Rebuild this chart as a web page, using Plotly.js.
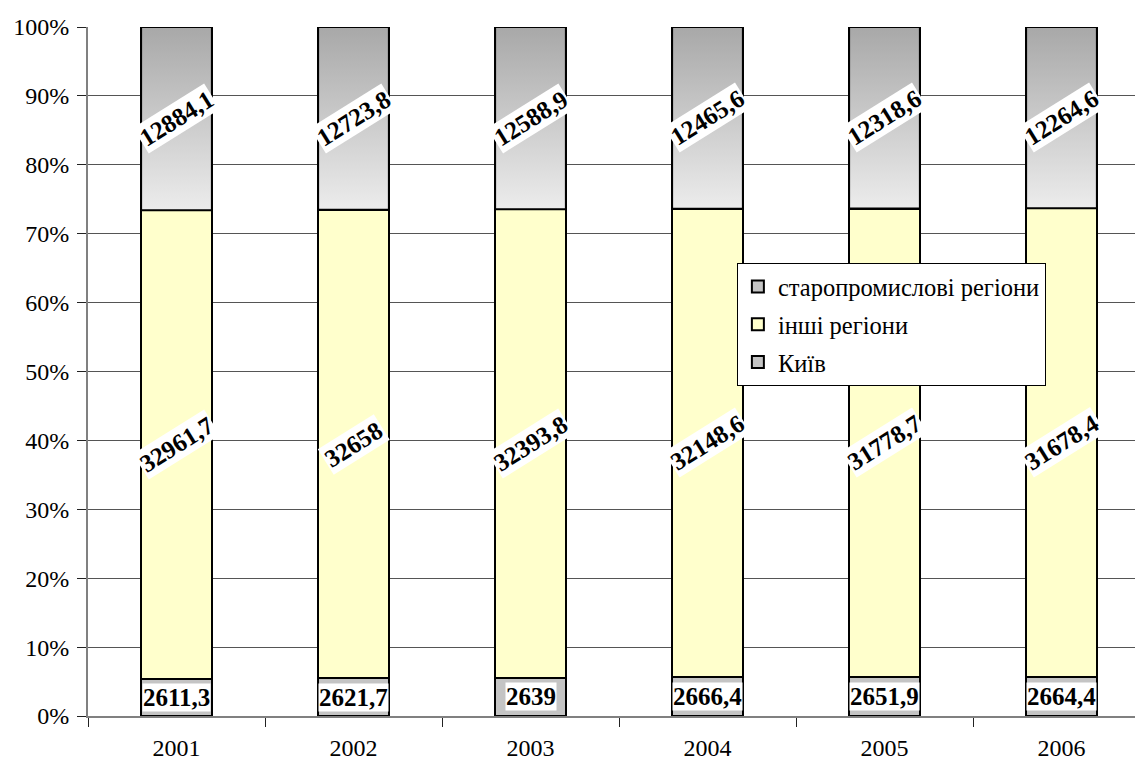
<!DOCTYPE html>
<html>
<head>
<meta charset="utf-8">
<script src="https://cdn.plot.ly/plotly-3.0.1.min.js"></script>
<style>
  html, body { margin: 0; padding: 0; background: #fff; overflow: hidden; }
  #chart { width: 1152px; height: 765px; }
</style>
</head>
<body>
<div id="chart"></div>
<script>
// Years and population values by region group
const years = ['2001', '2002', '2003', '2004', '2005', '2006'];
const kyiv = [2611.3, 2621.7, 2639, 2666.4, 2651.9, 2664.4];
const otherRegions = [32961.7, 32658, 32393.8, 32148.6, 31778.7, 31678.4];
const oldIndustrial = [12884.1, 12723.8, 12588.9, 12465.6, 12318.6, 12264.6];

const seriesNames = ['Київ', 'інші регіони', 'старопромислові регіони'];
const yTickVals = [0, 10, 20, 30, 40, 50, 60, 70, 80, 90, 100];
const yTickText = yTickVals.map(v => v + '%');

const serif = 'Liberation Serif';
const BAR_W = 0.4;
const fmt = v => String(v).replace('.', ',');

const totals = years.map((_, i) => kyiv[i] + otherRegions[i] + oldIndustrial[i]);
const shareK = years.map((_, i) => kyiv[i] / totals[i] * 100);
const shareO = years.map((_, i) => otherRegions[i] / totals[i] * 100);

const outline = { color: '#000', width: 2 };

const traces = [
  { type: 'bar', name: seriesNames[0], x: years, y: kyiv, width: BAR_W,
    marker: { color: '#c4c4c4', line: outline }, legendgroup: 'a', legendrank: 3, hoverinfo: 'skip' },
  { type: 'bar', name: seriesNames[1], x: years, y: otherRegions, width: BAR_W,
    marker: { color: '#ffffcc', line: outline }, legendgroup: 'b', legendrank: 2, hoverinfo: 'skip' },
  { type: 'bar', name: seriesNames[2], x: years, y: oldIndustrial, width: BAR_W,
    marker: { color: '#c4c4c4', line: outline }, legendgroup: 'c', legendrank: 1, hoverinfo: 'skip' }
];

// Vertical grey gradient over the top segment of each column
years.forEach((_, i) => {
  const base = shareK[i] + shareO[i];
  const x0 = i - BAR_W / 2, x1 = i + BAR_W / 2;
  traces.push({
    type: 'scatter', mode: 'lines', xaxis: 'x2', yaxis: 'y',
    x: [x0, x1, x1, x0, x0], y: [base, base, 100, 100, base],
    fill: 'toself',
    fillgradient: { type: 'vertical', colorscale: [[0, '#ececec'], [1, '#a8a8a8']] },
    line: { color: '#000', width: 2 },
    showlegend: false, hoverinfo: 'skip'
  });
});

const labelFont = { family: serif, size: 25, weight: 'bold', color: '#000' };
const annotations = [];
years.forEach((yr, i) => {
  const base = shareK[i] + shareO[i];
  annotations.push({
    x: i, xref: 'x2', y: shareK[i] / 2, yref: 'y',
    text: fmt(kyiv[i]), showarrow: false, bgcolor: '#fff', borderpad: 0, font: labelFont
  });
  annotations.push({
    x: i, xref: 'x2', y: shareK[i] + shareO[i] / 2, yref: 'y',
    text: fmt(otherRegions[i]), showarrow: false, textangle: -32, bgcolor: '#fff', borderpad: 1, font: labelFont
  });
  annotations.push({
    x: i, xref: 'x2', y: base + (100 - base) / 2, yref: 'y',
    text: fmt(oldIndustrial[i]), showarrow: false, textangle: -32, bgcolor: '#fff', borderpad: 1, font: labelFont
  });
});

const layout = {
  width: 1152, height: 765,
  margin: { l: 88, r: 2, t: 27, b: 49 },
  paper_bgcolor: '#fff', plot_bgcolor: '#fff',
  barmode: 'stack', barnorm: 'percent',
  font: { family: serif, size: 24, color: '#000' },
  xaxis: {
    type: 'category', range: [-0.5, 5.5],
    showline: true, linecolor: '#808080', linewidth: 2,
    ticks: 'outside', tickson: 'boundaries', ticklen: 9, tickcolor: '#222', tickwidth: 1,
    ticklabelstandoff: 9, showgrid: false, zeroline: false,
    tickfont: { family: serif, size: 24, color: '#000' }
  },
  xaxis2: { overlaying: 'x', range: [-0.5, 5.5], visible: false },
  yaxis: {
    range: [0, 100], tickmode: 'array', tickvals: yTickVals, ticktext: yTickText,
    showline: true, linecolor: '#808080', linewidth: 2,
    ticks: 'outside', ticklen: 9, tickcolor: '#222', tickwidth: 1,
    ticklabelstandoff: 3,
    showgrid: true, gridcolor: '#555', gridwidth: 1, zeroline: false,
    tickfont: { family: serif, size: 24, color: '#000' }
  },
  legend: {
    x: 0.611, y: 0.6575, xanchor: 'left', yanchor: 'top',
    bgcolor: '#fff', bordercolor: '#000', borderwidth: 1,
    traceorder: 'grouped', tracegroupgap: 3,
    font: { family: serif, size: 24.5, color: '#000' }
  },
  annotations: annotations,
  showlegend: true
};

Plotly.newPlot('chart', traces, layout, { staticPlot: true, displayModeBar: false });
</script>
</body>
</html>
